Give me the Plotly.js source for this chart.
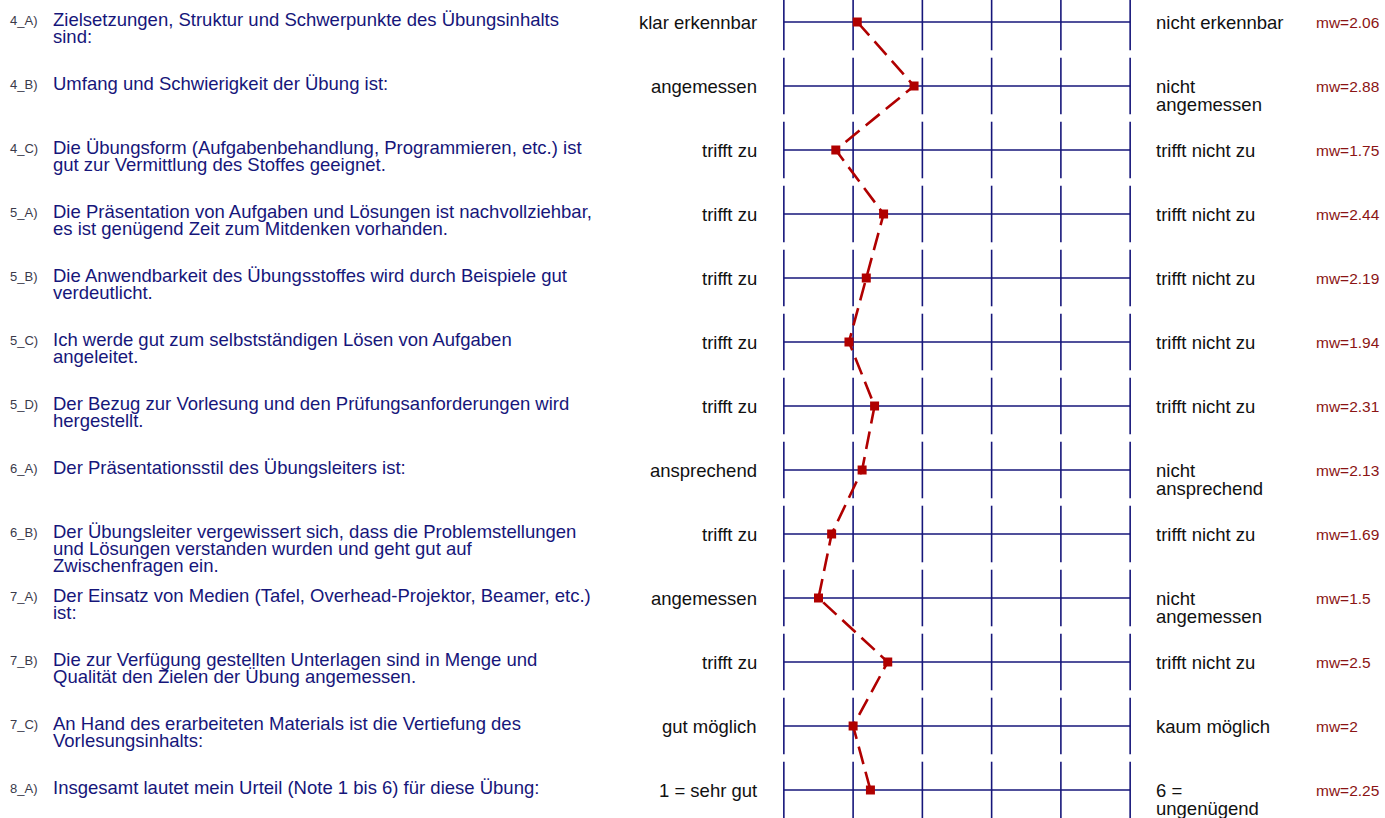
<!DOCTYPE html>
<html>
<head>
<meta charset="utf-8">
<script src="https://cdn.plot.ly/plotly-3.0.1.min.js"></script>
<style>html,body{margin:0;padding:0;background:#fff;}#chart{width:1385px;height:818px;}</style>
</head>
<body>
<div id="chart"></div>
<script>
var codes = ["4_A)", "4_B)", "4_C)", "5_A)", "5_B)", "5_C)", "5_D)", "6_A)", "6_B)", "7_A)", "7_B)", "7_C)", "8_A)"];
var questions = [
  ["Zielsetzungen, Struktur und Schwerpunkte des Übungsinhalts", "sind:"],
  ["Umfang und Schwierigkeit der Übung ist:"],
  ["Die Übungsform (Aufgabenbehandlung, Programmieren, etc.) ist", "gut zur Vermittlung des Stoffes geeignet."],
  ["Die Präsentation von Aufgaben und Lösungen ist nachvollziehbar,", "es ist genügend Zeit zum Mitdenken vorhanden."],
  ["Die Anwendbarkeit des Übungsstoffes wird durch Beispiele gut", "verdeutlicht."],
  ["Ich werde gut zum selbstständigen Lösen von Aufgaben", "angeleitet."],
  ["Der Bezug zur Vorlesung und den Prüfungsanforderungen wird", "hergestellt."],
  ["Der Präsentationsstil des Übungsleiters ist:"],
  ["Der Übungsleiter vergewissert sich, dass die Problemstellungen", "und Lösungen verstanden wurden und geht gut auf", "Zwischenfragen ein."],
  ["Der Einsatz von Medien (Tafel, Overhead-Projektor, Beamer, etc.)", "ist:"],
  ["Die zur Verfügung gestellten Unterlagen sind in Menge und", "Qualität den Zielen der Übung angemessen."],
  ["An Hand des erarbeiteten Materials ist die Vertiefung des", "Vorlesungsinhalts:"],
  ["Insgesamt lautet mein Urteil (Note 1 bis 6) für diese Übung:"]
];
var leftLabels = ["klar erkennbar", "angemessen", "trifft zu", "trifft zu", "trifft zu", "trifft zu", "trifft zu", "ansprechend", "trifft zu", "angemessen", "trifft zu", "gut möglich", "1 = sehr gut"];
var rightLabels = [
  ["nicht erkennbar"], ["nicht", "angemessen"], ["trifft nicht zu"], ["trifft nicht zu"],
  ["trifft nicht zu"], ["trifft nicht zu"], ["trifft nicht zu"], ["nicht", "ansprechend"],
  ["trifft nicht zu"], ["nicht", "angemessen"], ["trifft nicht zu"], ["kaum möglich"], ["6 =", "ungenügend"]
];
var means = [2.06, 2.88, 1.75, 2.44, 2.19, 1.94, 2.31, 2.13, 1.69, 1.5, 2.5, 2, 2.25];
var scaleTicks = [1, 2, 3, 4, 5, 6];

var FONT = "Liberation Sans, Arial, Helvetica, sans-serif";
var NAVY = "#16167a";
var RED = "#b00000";
var L = 770, R = 241, W = 1385, H = 818;
var plotW = W - L - R;
function px(p) { return (p - L) / plotW; }

var rows = codes.map(function (_, i) { return i; });

var shapes = [];
rows.forEach(function (i) {
  shapes.push({type: "line", layer: "below", xref: "x", yref: "y",
    x0: scaleTicks[0], x1: scaleTicks[scaleTicks.length - 1], y0: i, y1: i,
    line: {color: NAVY, width: 1.6}});
  scaleTicks.forEach(function (t) {
    shapes.push({type: "line", layer: "below", xref: "x", yref: "y",
      x0: t, x1: t, y0: i - 0.442, y1: i + 0.442,
      line: {color: NAVY, width: 1.6}});
  });
});

function ann(x, i, yshift, anchor, text, size, color) {
  return {xref: "paper", yref: "y", x: px(x), y: i, yshift: yshift,
    xanchor: anchor, yanchor: "middle", showarrow: false, text: text,
    borderpad: 0, borderwidth: 0,
    font: {family: FONT, size: size, color: color}};
}

var annotations = [];
rows.forEach(function (i) {
  annotations.push(ann(10, i, 1.5, "left", codes[i], 13, "#3a3a4a"));
  questions[i].forEach(function (line, k) {
    annotations.push(ann(53, i, 2.6 - k * 17, "left", line, 18.5, NAVY));
  });
  annotations.push(ann(757, i, 0, "right", leftLabels[i], 18.5, "#111111"));
  rightLabels[i].forEach(function (line, k) {
    annotations.push(ann(1156, i, -k * 18.3, "left", line, 18.5, "#111111"));
  });
  annotations.push(ann(1316, i, -0.5, "left", "mw=" + String(means[i]), 15.5, "#8b1414"));
});

var trace = {
  type: "scatter", mode: "lines+markers",
  x: means, y: rows, cliponaxis: false, hoverinfo: "skip",
  line: {color: RED, width: 2.6, dash: "18px,8px"},
  marker: {symbol: "square", size: 9, color: RED}
};

var layout = {
  width: W, height: H,
  margin: {l: L, r: R, t: 0, b: 0, pad: 0},
  paper_bgcolor: "#ffffff", plot_bgcolor: "#ffffff",
  showlegend: false,
  xaxis: {range: [0.8, 6.2], showgrid: false, zeroline: false, showticklabels: false, showline: false, ticks: "", fixedrange: true},
  yaxis: {range: [12.4375, -0.34375], showgrid: false, zeroline: false, showticklabels: false, showline: false, ticks: "", fixedrange: true},
  shapes: shapes,
  annotations: annotations
};

Plotly.newPlot("chart", [trace], layout, {displayModeBar: false, staticPlot: true});
</script>
</body>
</html>
